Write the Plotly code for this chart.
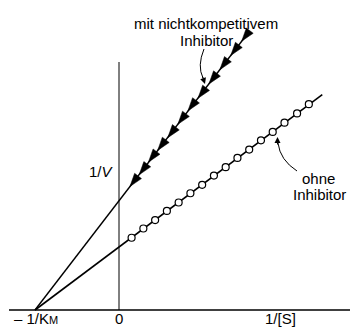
import plotly.graph_objects as go

# ---- data (units: -1/KM = -1) ----
km_intercept = [-1.0]
line_ohne_x = [-1.0, 2.42]
line_ohne_y = [0.0, 2.565]
line_mit_x = [-1.0, 1.55]
line_mit_y = [0.0, 3.315]

circle_x = [0.15, 0.29, 0.43, 0.57, 0.71, 0.85, 0.99, 1.13, 1.27, 1.41, 1.55, 1.69, 1.83, 1.97, 2.12, 2.26]
circle_y = [0.86, 0.97, 1.07, 1.18, 1.28, 1.39, 1.49, 1.60, 1.70, 1.81, 1.91, 2.02, 2.12, 2.23, 2.34, 2.45]

arrow_x = [1.46, 1.33, 1.20, 1.07, 0.94, 0.82, 0.70, 0.58, 0.46, 0.35, 0.24, 0.13]
arrow_y = [3.20, 3.03, 2.86, 2.69, 2.52, 2.37, 2.21, 2.05, 1.90, 1.76, 1.61, 1.47]

# page offset of the figure inside the browser (body margin)
OFF = 8
W, H = 358, 327
X0, Y0, S = 119, 310, 84.0  # reference pixel origin and pixels per unit


def dx(px):
    return (px - X0) / S


def dy(py):
    return (Y0 - py) / S


FONT = "Liberation Sans, Arial, sans-serif"
FS = 15

fig = go.Figure()

fig.add_trace(go.Scatter(x=line_mit_x, y=line_mit_y, mode="lines",
                         line=dict(color="black", width=1.4), hoverinfo="skip"))
fig.add_trace(go.Scatter(x=line_ohne_x, y=line_ohne_y, mode="lines",
                         line=dict(color="black", width=1.6), hoverinfo="skip"))
fig.add_trace(go.Scatter(x=circle_x, y=circle_y, mode="markers",
                         marker=dict(symbol="circle", size=7, color="white",
                                     line=dict(color="black", width=1.2)),
                         hoverinfo="skip"))
fig.add_trace(go.Scatter(x=arrow_x, y=arrow_y, mode="markers",
                         marker=dict(symbol="arrow", size=14, color="black", angle=217.6,
                                     line=dict(color="black", width=0.5)),
                         hoverinfo="skip"))

# axes
fig.add_shape(type="line", x0=dx(9), x1=dx(350), y0=0, y1=0,
              line=dict(color="black", width=1.6))
fig.add_shape(type="line", x0=0, x1=0, y0=0, y1=dy(62),
              line=dict(color="black", width=1))

# curved pointers
fig.add_shape(type="path",
              path=f"M {dx(204)},{dy(49)} Q {dx(197)},{dy(66)} {dx(203)},{dy(78)}",
              line=dict(color="black", width=1))
fig.add_shape(type="path",
              path=f"M {dx(297)},{dy(171)} Q {dx(280)},{dy(160)} {dx(278)},{dy(143)}",
              line=dict(color="black", width=1))

txt = dict(showarrow=False, font=dict(size=FS, family=FONT, color="black"))
anns = [
    dict(x=dx(205), y=dy(84), ax=-3, ay=-9, showarrow=True, arrowhead=2,
         arrowsize=1.2, arrowwidth=1, arrowcolor="black", text=""),
    dict(x=dx(277.5), y=dy(137), ax=0, ay=9, showarrow=True, arrowhead=2,
         arrowsize=1.2, arrowwidth=1, arrowcolor="black", text=""),
    dict(x=dx(206), y=dy(23), text="mit nichtkompetitivem", **txt),
    dict(x=dx(206), y=dy(40), text="Inhibitor", **txt),
    dict(x=dx(318), y=dy(178), text="ohne", **txt),
    dict(x=dx(319), y=dy(194), text="Inhibitor", **txt),
    dict(x=dx(101), y=dy(171), text="1/<i>V</i>", **txt),
    dict(x=dx(36), y=dy(318), text="– 1/K<span style='font-size:11px'>M</span>", **txt),
    dict(x=0, y=dy(318), text="0", **txt),
    dict(x=dx(280), y=dy(318), text="1/[S]", **txt),
]
for a in anns:
    fig.add_annotation(xref="x", yref="y", **a)

fig.update_layout(
    width=W - OFF, height=H - OFF,
    margin=dict(l=0, r=0, t=0, b=0),
    paper_bgcolor="white", plot_bgcolor="white",
    showlegend=False,
    xaxis=dict(range=[dx(OFF), dx(W)], visible=False, fixedrange=True),
    yaxis=dict(range=[dy(H), dy(OFF)], visible=False, fixedrange=True),
)

fig.write_html("out.html")
